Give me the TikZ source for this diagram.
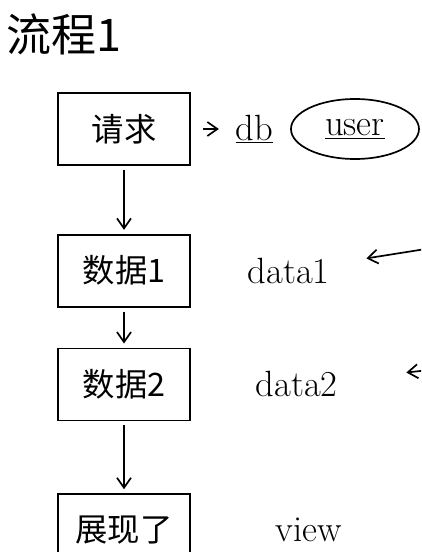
\documentclass[tikz,border=0pt]{standalone}
\usepackage{fontspec}
\usepackage{tikz}
\usetikzlibrary{arrows.meta,positioning,shapes.geometric}
\newfontfamily\cjk{Noto Sans CJK SC}
\definecolor{ink}{RGB}{0,0,0}

\begin{document}
\begin{tikzpicture}[node distance=17mm and 12mm,>={Straight Barb[length=2.5mm,width=3.5mm]},
box/.style={draw=ink,line width=1.2pt,minimum width=33mm,minimum height=18mm,align=center,font=\cjk\fontsize{23}{27}\selectfont},
lbl/.style={text=ink,font=\fontsize{26}{30}\selectfont},
arr/.style={->,line width=1.2pt,ink,shorten <=1mm,shorten >=1mm}]
\useasboundingbox (0,0) rectangle (105.25mm,-138mm);
\clip (0,0) rectangle (105.25mm,-138mm);
\node[font=\cjk\fontsize{32}{36}\selectfont] (title) at (16mm,-8.5mm) {流程1};
\node[box] (req) at (31mm,-32.25mm) {请求};
\node[box,below=of req] (d1) {数据1};
\node[box,below=10mm of d1] (d2) {数据2};
\node[box,below=18mm of d2] (show) {展现了};
\node[lbl,right=10mm of req] (db) {\underline{db}};
\node[lbl,draw=ink,line width=1.2pt,ellipse,minimum width=32mm,minimum height=15mm,inner sep=1pt,right=3mm of db] (user) {\underline{user}};
\node[lbl,right=13mm of d1] (data1) {data1};
\node[lbl,right=15mm of d2] (data2) {data2};
\node[lbl,right=20mm of show] (view) {view};
\coordinate (in1) at (108mm,-62mm);
\coordinate (in2) at (112mm,-92mm);
\draw[arr] (req)--(d1);
\draw[arr] (d1)--(d2);
\draw[arr] (d2)--(show);
\draw[arr,shorten <=3mm,shorten >=3mm] (req)--(db);
\draw[arr,shorten >=8mm] (in1)--(data1);
\draw[arr,shorten >=16mm] (in2)--(data2);
\end{tikzpicture}
\end{document}
